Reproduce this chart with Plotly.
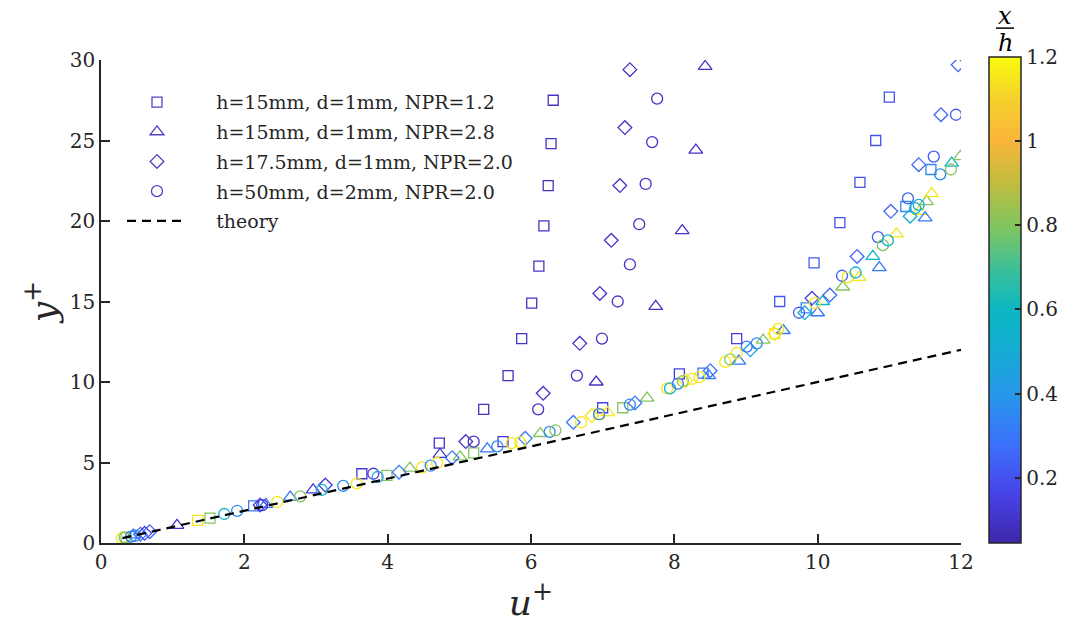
import plotly.graph_objects as go

# ---------------- data (u+, y+, x/h) ----------------
# h=15mm, d=1mm, NPR=1.2  (squares)
sq_u = [6.31, 6.28, 6.24, 6.18, 6.11, 6.01, 5.87, 5.68, 5.34, 4.72,
        11.0, 10.81, 10.59, 10.31, 9.95, 9.47, 8.87, 8.07, 7.0, 5.61, 3.64,
        0.35, 1.35, 1.52, 2.13, 3.99, 5.2, 7.28, 8.40, 9.84, 11.23, 11.58, 6.95, 9.40]
sq_y = [27.5, 24.8, 22.2, 19.7, 17.2, 14.9, 12.7, 10.4, 8.3, 6.2,
        27.7, 25.0, 22.4, 19.9, 17.4, 15.0, 12.7, 10.5, 8.4, 6.3, 4.3,
        0.35, 1.4, 1.55, 2.3, 4.2, 5.6, 8.4, 10.55, 14.6, 20.9, 23.2, 8.0, 13.0]
sq_c = [0.10, 0.10, 0.10, 0.10, 0.10, 0.10, 0.10, 0.10, 0.10, 0.10,
        0.20, 0.20, 0.20, 0.20, 0.22, 0.22, 0.15, 0.15, 0.15, 0.12, 0.12,
        0.80, 1.15, 0.80, 0.30, 0.80, 0.80, 0.80, 0.30, 0.35, 0.35, 0.35, 1.15, 1.15]

# h=15mm, d=1mm, NPR=2.8  (triangles)
tr_u = [8.43, 8.30, 8.11, 7.74, 6.91, 4.73, 1.06, 2.96,
        0.45, 2.30, 2.64, 4.31, 5.01, 5.39, 6.13, 7.07, 7.62, 8.48, 8.9, 9.24, 9.52,
        10.0, 10.07, 10.35, 10.58, 10.77, 10.86, 11.1, 11.42, 11.5, 11.52, 11.59, 11.87, 11.99]
tr_y = [29.6, 24.4, 19.4, 14.7, 10.0, 5.5, 1.1, 3.3,
        0.5, 2.4, 2.85, 4.65, 5.35, 5.85, 6.8, 8.1, 9.0, 10.4, 11.3, 12.6, 13.2,
        14.3, 15.0, 15.9, 16.5, 17.8, 17.1, 19.2, 20.6, 20.2, 21.2, 21.7, 23.6, 24.0]
tr_c = [0.10, 0.10, 0.10, 0.10, 0.10, 0.10, 0.10, 0.12,
        0.30, 0.30, 0.30, 0.80, 0.80, 0.30, 0.80, 1.15, 0.80, 0.30, 0.30, 0.80, 0.30,
        0.30, 0.55, 0.80, 1.15, 0.55, 0.30, 1.15, 1.15, 0.30, 0.80, 1.15, 0.55, 0.80]

# h=17.5mm, d=1mm, NPR=2.0  (diamonds)
di_u = [7.38, 7.31, 7.24, 7.12, 6.96, 6.68, 6.17, 5.09,
        11.96, 11.72, 11.41, 11.02, 10.55, 10.17, 9.92,
        0.55, 0.61, 0.68, 2.22, 3.13, 4.16, 4.9, 5.92, 6.59, 6.85, 7.45, 8.16, 8.5, 9.06, 9.40, 9.82, 11.29]
di_y = [29.4, 25.8, 22.2, 18.8, 15.5, 12.4, 9.3, 6.3,
        29.7, 26.6, 23.5, 20.6, 17.8, 15.4, 15.2,
        0.55, 0.6, 0.7, 2.36, 3.6, 4.4, 5.3, 6.5, 7.5, 7.9, 8.7, 10.1, 10.7, 12.0, 13.0, 14.3, 20.3]
di_c = [0.10, 0.10, 0.10, 0.10, 0.10, 0.10, 0.10, 0.10,
        0.25, 0.25, 0.25, 0.25, 0.25, 0.25, 0.15,
        0.30, 0.15, 0.25, 0.15, 0.12, 0.30, 0.30, 0.30, 0.30, 1.15, 0.30, 1.15, 0.30, 0.45, 1.15, 0.50, 0.50]

# h=50mm, d=2mm, NPR=2.0  (circles)
ci_u = [7.76, 7.69, 7.60, 7.51, 7.38, 7.21, 6.99, 6.64, 6.10, 5.20,
        11.93, 11.62, 11.26, 10.84, 10.34, 9.74, 2.25, 3.80,
        0.29, 0.33, 0.42, 0.48, 1.72, 1.90, 2.46, 2.78, 3.08, 3.38, 3.57, 3.86, 4.48, 4.6, 4.69,
        5.53, 5.73, 5.85, 6.26, 6.34, 6.70, 6.95, 7.38, 7.9, 7.94, 8.05, 8.12, 8.25, 8.35,
        8.71, 8.78, 8.87, 9.01, 9.15, 9.45, 9.96, 10.42, 10.53, 10.91, 10.98, 11.36, 11.41, 11.71, 11.86]
ci_y = [27.6, 24.9, 22.3, 19.8, 17.3, 15.0, 12.7, 10.4, 8.3, 6.3,
        26.6, 24.0, 21.4, 19.0, 16.6, 14.3, 2.35, 4.3,
        0.3, 0.35, 0.4, 0.45, 1.8, 2.0, 2.55, 2.9, 3.3, 3.55, 3.7, 4.1, 4.7, 4.8, 4.97,
        6.0, 6.2, 6.25, 6.9, 7.0, 7.5, 8.0, 8.6, 9.6, 9.6, 9.9, 10.05, 10.2, 10.3,
        11.25, 11.4, 11.8, 12.2, 12.4, 13.3, 14.9, 16.5, 16.8, 18.5, 18.8, 20.8, 21.0, 22.9, 23.2]
ci_c = [0.10, 0.10, 0.10, 0.10, 0.10, 0.10, 0.10, 0.10, 0.10, 0.10,
        0.22, 0.22, 0.22, 0.22, 0.22, 0.22, 0.12, 0.12,
        1.15, 0.80, 0.30, 0.35, 0.55, 0.35, 1.15, 0.80, 0.55, 0.35, 1.15, 0.40, 1.15, 0.35, 1.15,
        0.35, 1.15, 1.15, 0.35, 0.80, 1.15, 0.35, 0.35, 1.15, 0.55, 0.30, 0.80, 1.15, 1.15,
        1.15, 0.80, 1.15, 0.30, 0.35, 1.15, 1.15, 1.15, 0.55, 0.80, 0.55, 0.55, 0.50, 0.35, 0.80]

theory_u = [0.3, 12.0]
theory_y = [0.3, 12.0]

labels = ["h=15mm, d=1mm, NPR=1.2", "h=15mm, d=1mm, NPR=2.8",
          "h=17.5mm, d=1mm, NPR=2.0", "h=50mm, d=2mm, NPR=2.0", "theory"]
cbar_ticks = [0.2, 0.4, 0.6, 0.8, 1.0, 1.2]
cbar_text = ["0.2", "0.4", "0.6", "0.8", "1", "1.2"]

parula = [
    [0.00, "#3e26a8"], [0.10, "#4743e8"], [0.20, "#3d6ffb"], [0.30, "#2796eb"],
    [0.40, "#14add3"], [0.48, "#0bb8c2"], [0.56, "#3abf9a"], [0.65, "#80c660"],
    [0.74, "#c0bc3e"], [0.83, "#fbb53a"], [0.92, "#f4d42a"], [1.00, "#f9fb0e"],
]

FONT = "DejaVu Serif"
DARK = "#262626"
LEG = "#5044c0"
PAD = "\u00a0" * 4

fig = go.Figure()

series = [
    (sq_u, sq_y, sq_c, "square-open", 10),
    (tr_u, tr_y, tr_c, "triangle-up-open", 12),
    (di_u, di_y, di_c, "diamond-open", 10.5),
    (ci_u, ci_y, ci_c, "circle-open", 11),
]
for (u, y, c, sym, sz), lab in zip(series, labels):
    fig.add_trace(go.Scatter(
        x=u, y=y, mode="markers", showlegend=False,
        marker=dict(symbol=sym, size=sz, color=c, coloraxis="coloraxis",
                    line=dict(width=1.3)),
    ))

fig.add_trace(go.Scatter(x=theory_u, y=theory_y, mode="lines", showlegend=False,
                         line=dict(color="black", width=2.2, dash="9px,6px")))

# legend entries
for i, ((u, y, c, sym, sz), lab) in enumerate(zip(series, labels)):
    fig.add_trace(go.Scatter(x=[None], y=[None], mode="markers", name=PAD + lab, legendgroup=f"g{i}",
                             marker=dict(symbol=sym, size=sz, color=LEG, line=dict(width=1.3))))
fig.add_trace(go.Scatter(x=[None], y=[None], mode="lines", name=PAD + labels[4], legendgroup="g4",
                         line=dict(color="black", width=2.2, dash="9px,6px")))

fig.update_layout(
    width=1065, height=623,
    margin=dict(l=101, r=104, t=60, b=80, autoexpand=False),
    paper_bgcolor="white", plot_bgcolor="white",
    font=dict(family=FONT, size=18, color=DARK),
    coloraxis=dict(
        colorscale=parula, cmin=0.045, cmax=1.2,
        colorbar=dict(
            x=1.0326, xanchor="left", xpad=0, y=0, yanchor="bottom", ypad=0,
            len=1.006, lenmode="fraction",
            thickness=32, outlinewidth=1.5, outlinecolor=DARK,
            ticks="inside", ticklen=6, tickwidth=1.5, tickcolor=DARK,
            tickvals=cbar_ticks, ticktext=cbar_text,
            tickfont=dict(family=FONT, size=20, color=DARK),
        ),
    ),
    legend=dict(x=0.0244, y=0.952, xanchor="left", yanchor="top",
                bgcolor="rgba(0,0,0,0)", font=dict(family=FONT, size=19, color=DARK),
                itemwidth=60, tracegroupgap=2),
    xaxis=dict(range=[0, 12], tickvals=[0, 2, 4, 6, 8, 10, 12], automargin=False,
               showline=True, linecolor=DARK, linewidth=1.5, mirror=False,
               ticks="inside", ticklen=9, tickwidth=1.5, tickcolor=DARK,
               showgrid=False, zeroline=False,
               tickfont=dict(family=FONT, size=20, color=DARK),
               title=dict(text="<i>u</i><sup>+</sup>", standoff=20,
                          font=dict(family="DejaVu Serif", size=36, color=DARK))),
    yaxis=dict(range=[0, 30], tickvals=[0, 5, 10, 15, 20, 25, 30], automargin=False,
               showline=True, linecolor=DARK, linewidth=1.5, mirror=False,
               ticks="inside", ticklen=9, tickwidth=1.5, tickcolor=DARK,
               showgrid=False, zeroline=False,
               tickfont=dict(family=FONT, size=20, color=DARK),
               title=dict(text="<i>y</i><sup>+</sup>", standoff=2,
                          font=dict(family="DejaVu Serif", size=36, color=DARK))),
)

# colorbar title x/h as a fraction
fig.add_annotation(xref="paper", yref="paper", x=1.0512, y=1.092, text="<i>x</i>",
                   showarrow=False, font=dict(family="DejaVu Serif", size=24, color="black"),
                   xanchor="center", yanchor="middle")
fig.add_annotation(xref="paper", yref="paper", x=1.0512, y=1.035, text="<i>h</i>",
                   showarrow=False, font=dict(family="DejaVu Serif", size=24, color="black"),
                   xanchor="center", yanchor="middle")
fig.add_shape(type="line", xref="paper", yref="paper", x0=1.0407, x1=1.0617,
              y0=1.066, y1=1.066, line=dict(color="black", width=1.5))

# remove the default 8px page margin so the 1065x623 figure fills the window exactly
fig.write_html("out.html", config={"displayModeBar": False},
               post_script="document.body.style.margin='0px';")
